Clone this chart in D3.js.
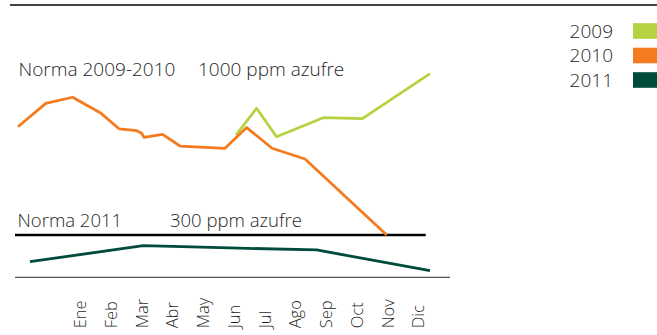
<!DOCTYPE html>
<html>
<head>
<meta charset="utf-8">
<script src="https://cdn.jsdelivr.net/npm/d3@7/dist/d3.min.js"></script>
<style>
  html, body { margin: 0; padding: 0; background: #fff; }
  svg { display: block; }
  text { font-family: "Open Sans", Lato, sans-serif; font-weight: 300; fill: #1f1f1f; }
</style>
</head>
<body>
<svg id="chart" width="657" height="335"></svg>
<script>
// Contenido de azufre (ppm) a lo largo del año; posición x en meses desde el inicio del trazo
const months = ["Ene", "Feb", "Mar", "Abr", "May", "Jun", "Jul", "Ago", "Sep", "Oct", "Nov", "Dic"];

const years = ["2009", "2010", "2011"];
const colors = ["#b5d340", "#f47b20", "#004b3b"];

const t2009 = [6.35, 6.95, 7.53, 8.89, 10.03, 12];
const v2009 = [1009, 1199, 997, 1132, 1125, 1445];

const t2010 = [0, 0.81, 1.59, 2.42, 2.95, 3.46, 3.60, 3.67, 4.21, 4.72, 6.03, 6.66, 7.40, 8.36, 10.74];
const v2010 = [1068, 1234, 1277, 1163, 1052, 1040, 1021, 993, 1014, 931, 915, 1062, 915, 839, 300];

const t2011 = [0.35, 3.65, 6.17, 8.70, 12];
const v2011 = [111, 224, 208, 194, 47];

const norm2011 = 300;
const normLabels = [
  { name: "Norma 2009-2010", limit: "1000 ppm azufre" },
  { name: "Norma 2011", limit: "300 ppm azufre" }
];

const svg = d3.select("#chart");

const x = d3.scaleLinear().domain([0, 12]).range([18, 430]);
const y = d3.scaleLinear().domain([0, 1500]).range([277.3, 65.8]);
const xMonth = d3.scalePoint().domain(months).range([80, 418]);

// Filete superior
svg.append("line")
  .attr("x1", 10).attr("x2", 657).attr("y1", 5).attr("y2", 5)
  .attr("stroke", "#444").attr("stroke-width", 2);

// Eje inferior con los meses
const axis = d3.axisBottom(xMonth).tickSize(0).tickPadding(0);
const gAxis = svg.append("g").attr("transform", "translate(0,277.3)").call(axis);
gAxis.select(".domain").remove();
svg.append("line")
  .attr("x1", 15).attr("x2", 450).attr("y1", y(0)).attr("y2", y(0))
  .attr("stroke", "#555").attr("stroke-width", 1.3);
gAxis.selectAll(".tick text")
  .attr("transform", "translate(0,51) rotate(-90)")
  .attr("x", 0).attr("y", 0).attr("dy", "0.35em")
  .attr("text-anchor", "start")
  .style("font-family", "'Open Sans', Lato, sans-serif")
  .style("font-weight", 300)
  .style("font-size", "16.5px")
  .attr("fill", "#1f1f1f");

// Límite 2011
svg.append("line")
  .attr("x1", 15).attr("x2", 425.7).attr("y1", y(norm2011)).attr("y2", y(norm2011))
  .attr("stroke", "#000").attr("stroke-width", 2.6);

svg.append("text").attr("x", 18.5).attr("y", 75.5).style("font-size", "19px").text(normLabels[0].name);
svg.append("text").attr("x", 198).attr("y", 75.5).style("font-size", "19px").text(normLabels[0].limit);
svg.append("text").attr("x", 17.5).attr("y", 227).style("font-size", "18.5px").text(normLabels[1].name);
svg.append("text").attr("x", 170).attr("y", 227).style("font-size", "18.5px").text(normLabels[1].limit);

// Series
const line = d3.line().x(d => x(d[0])).y(d => y(d[1]));
const series = [
  d3.zip(t2009, v2009),
  d3.zip(t2010, v2010),
  d3.zip(t2011, v2011)
];
[2, 0, 1].forEach(i => {
  svg.append("path")
    .datum(series[i])
    .attr("d", line)
    .attr("fill", "none")
    .attr("stroke", colors[i])
    .attr("stroke-width", 2.8)
    .attr("stroke-linejoin", "round");
});

// Leyenda
const legend = svg.append("g");
years.forEach((yr, i) => {
  const cy = 31 + i * 24.5;
  legend.append("rect")
    .attr("x", 633).attr("y", cy - 7.8).attr("width", 24).attr("height", 15.6)
    .attr("fill", colors[i]);
  legend.append("text")
    .attr("x", 613).attr("y", cy).attr("dy", "0.36em")
    .attr("text-anchor", "end").style("font-size", "19px")
    .text(yr);
});
</script>
</body>
</html>
